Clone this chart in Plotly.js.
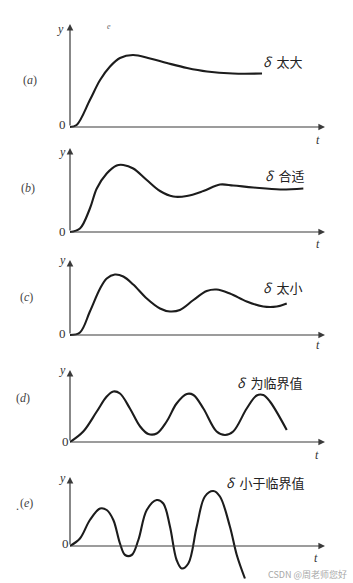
<!DOCTYPE html>
<html>
<head>
<meta charset="utf-8">
<script src="https://cdn.plot.ly/plotly-3.0.1.min.js"></script>
<style>
  html, body { margin: 0; padding: 0; background: #ffffff; }
  #chart { width: 353px; height: 583px; }
</style>
</head>
<body>
<div id="chart"></div>
<script>
// Closed-loop step responses y(t) for different proportional-band settings δ

const panelTags  = ['(a)', '(b)', '(c)', '(d)', '(e)'];
const panelNotes = ['太大', '合适', '太小', '为临界值', '小于临界值'];

// (a) δ too large: sluggish, single overshoot
const tA = [0, 0.26, 0.78, 1.18, 1.57, 1.96, 2.47, 3.14, 3.80, 4.59, 5.37, 6.39, 7.53];
const yA = [0, 0.04, 0.54, 0.94, 1.21, 1.38, 1.44, 1.37, 1.28, 1.18, 1.11, 1.07, 1.07];

// (b) δ suitable: decaying oscillation
const tB = [0, 0.39, 0.78, 1.05, 1.44, 1.83, 2.09, 2.48, 3.01, 3.53, 4.05, 4.58, 5.23, 5.88, 6.40, 7.19, 8.24, 9.15];
const yB = [0, 0.07, 0.47, 0.87, 1.17, 1.33, 1.34, 1.27, 1.04, 0.82, 0.71, 0.72, 0.82, 0.95, 0.93, 0.89, 0.85, 0.87];

// (c) δ too small: slowly decaying oscillation
const tC = [0, 0.39, 0.78, 1.18, 1.44, 1.76, 2.09, 2.48, 3.01, 3.53, 3.92, 4.31, 4.84, 5.36, 5.75, 6.27, 6.93, 7.58, 8.11, 8.50];
const yC = [0, 0.05, 0.47, 0.93, 1.13, 1.21, 1.17, 1.01, 0.73, 0.53, 0.47, 0.50, 0.70, 0.88, 0.91, 0.83, 0.67, 0.57, 0.57, 0.63];

// (d) δ at the critical value: sustained oscillation
const tD = [0, 0.52, 1.05, 1.44, 1.70, 1.96, 2.35, 2.75, 3.07, 3.40, 3.79, 4.18, 4.58, 4.84, 5.23, 5.75, 6.08, 6.40, 6.93, 7.32, 7.58, 7.84, 8.50];
const yD = [0, 0.21, 0.61, 0.91, 1.01, 0.97, 0.67, 0.31, 0.16, 0.17, 0.41, 0.77, 0.96, 0.94, 0.67, 0.21, 0.14, 0.21, 0.67, 0.93, 0.94, 0.81, 0.24];

// (e) δ below the critical value: growing oscillation
const tE = [0, 0.39, 0.78, 1.18, 1.44, 1.70, 1.96, 2.16, 2.42, 2.68, 3.01, 3.40, 3.66, 3.92, 4.18, 4.38, 4.64, 4.97, 5.29, 5.62, 5.88, 6.27, 6.54, 6.86];
const yE = [0, 0.15, 0.52, 0.75, 0.72, 0.52, 0.05, -0.18, -0.18, 0.12, 0.72, 0.92, 0.85, 0.39, -0.28, -0.45, -0.35, 0.39, 0.99, 1.10, 0.99, 0.39, -0.18, -0.65];

const series = [[tA, yA], [tB, yB], [tC, yC], [tD, yD], [tE, yE]];

// ---- layout geometry (pixels) ----
const W = 353, H = 583;
const AX_LEFT = 70, AX_RIGHT = 325, T_MAX = 10;
const PX_PER_Y = 50;
// baseline, arrow tip, lowest visible pixel for each panel
const frames = [
  { base: 127, top: 24,  bottom: 131 },
  { base: 232, top: 148, bottom: 236 },
  { base: 335, top: 260, bottom: 339 },
  { base: 442, top: 370, bottom: 446 },
  { base: 546, top: 477, bottom: 582 }
];
// label anchor points (pixels)
const labelPos = [
  { y: [60, 29],  zero: [62, 125], tag: [30, 80],  note: [283, 62],  t: [318, 140] },
  { y: [62, 152], zero: [62, 231], tag: [28, 188], note: [285, 176], t: [318, 244] },
  { y: [62, 260], zero: [63, 333], tag: [26, 297], note: [283, 288], t: [318, 345] },
  { y: [62, 370], zero: [65, 441], tag: [23, 398], note: [270, 382], t: [317, 455] },
  { y: [62, 478], zero: [65, 543], tag: [26, 503], note: [265, 482], t: [316, 558] }
];

const px = v => v / W;
const py = v => 1 - v / H;

const INK = '#1c1c1c';
const AXIS_INK = '#3a3a3a';
const SERIF = '"Liberation Serif", "DejaVu Serif", serif';
const CJK = '"Noto Sans CJK SC", "Noto Sans", sans-serif';

const traces = [];
const layout = {
  width: W, height: H,
  margin: { l: 0, r: 0, t: 0, b: 0 },
  paper_bgcolor: '#ffffff',
  plot_bgcolor: 'rgba(0,0,0,0)',
  showlegend: false,
  annotations: []
};

series.forEach(([t, y], i) => {
  const n = i === 0 ? '' : String(i + 1);
  const f = frames[i];
  const yTop = (f.base - f.top) / PX_PER_Y;
  const yBot = -(f.bottom - f.base) / PX_PER_Y;

  traces.push({
    type: 'scatter', mode: 'lines',
    x: t, y: y,
    xaxis: 'x' + n, yaxis: 'y' + n,
    line: { color: INK, width: 2.1, shape: 'spline', smoothing: 1 },
    hoverinfo: 'skip'
  });

  const hidden = { showgrid: false, zeroline: false, showline: false, showticklabels: false, ticks: '', fixedrange: true };
  layout['xaxis' + n] = Object.assign({}, hidden, {
    domain: [px(AX_LEFT), px(AX_RIGHT)], range: [0, T_MAX], anchor: 'y' + n
  });
  layout['yaxis' + n] = Object.assign({}, hidden, {
    domain: [py(f.bottom), py(f.top)], range: [yBot, yTop], anchor: 'x' + n
  });

  // time axis and response axis with arrow heads
  const arrow = { showarrow: true, arrowhead: 2, arrowsize: 1.1, arrowwidth: 1.2, arrowcolor: AXIS_INK,
                  text: '', xref: 'x' + n, yref: 'y' + n, axref: 'x' + n, ayref: 'y' + n, standoff: 0, startstandoff: 0 };
  layout.annotations.push(Object.assign({}, arrow, { x: T_MAX, y: 0, ax: 0, ay: 0 }));
  layout.annotations.push(Object.assign({}, arrow, { x: 0, y: yTop, ax: 0, ay: 0 }));

  const p = labelPos[i];
  const txt = (pos, text, font) => ({
    xref: 'paper', yref: 'paper', x: px(pos[0]), y: py(pos[1]),
    xanchor: 'center', yanchor: 'middle', showarrow: false, text: text, font: font
  });
  layout.annotations.push(txt(p.y, '<i>y</i>', { family: SERIF, size: 12, color: '#333' }));
  layout.annotations.push(txt(p.zero, '0', { family: SERIF, size: 13, color: '#333' }));
  layout.annotations.push(txt(p.t, '<i>t</i>', { family: SERIF, size: 12, color: '#333' }));
  layout.annotations.push(txt(p.tag, '(<i>' + panelTags[i].charAt(1) + '</i>)', { family: SERIF, size: 12, color: '#444' }));
  layout.annotations.push(txt(p.note, '<i>δ</i>  ' + panelNotes[i], { family: CJK, size: 13, color: '#222' }));
});

// stray mark near the first axis and the source tag
layout.annotations.push({ xref: 'paper', yref: 'paper', x: px(109), y: py(26), xanchor: 'center', yanchor: 'middle',
  showarrow: false, text: '<i>e</i>', font: { family: SERIF, size: 8, color: '#666' } });
layout.annotations.push({ xref: 'paper', yref: 'paper', x: px(17), y: py(506), xanchor: 'center', yanchor: 'middle',
  showarrow: false, text: '.', font: { family: SERIF, size: 12, color: '#444' } });
layout.annotations.push({ xref: 'paper', yref: 'paper', x: px(349), y: py(574), xanchor: 'right', yanchor: 'middle',
  showarrow: false, text: 'CSDN @周老师您好', font: { family: CJK, size: 9, color: '#a8a8a8' } });

Plotly.newPlot('chart', traces, layout, { staticPlot: true, displayModeBar: false });
</script>
</body>
</html>
